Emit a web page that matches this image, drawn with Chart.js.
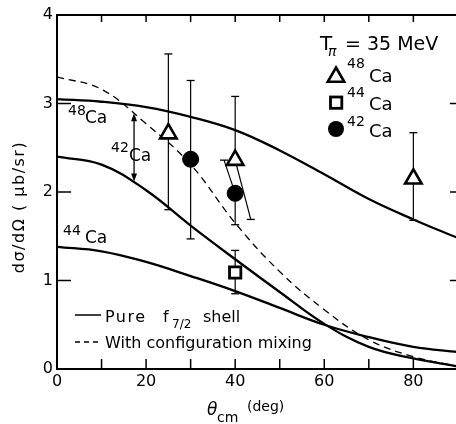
<!DOCTYPE html>
<html><head><meta charset="utf-8">
<script src="https://cdn.jsdelivr.net/npm/chart.js@4/dist/chart.umd.min.js"></script>
<style>
html,body{margin:0;padding:0;background:#fff;overflow:hidden;width:456px;height:424px}
#wrap{position:relative;width:470px;height:424px}
</style></head>
<body><div id="wrap"><canvas id="c" width="470" height="424"></canvas></div>
<script>
// ---- data ----
const angles = [0,10,20,30,40,50,60,70,80,90];
const ca48Pure   = [3.05,3.02,2.96,2.85,2.70,2.47,2.20,1.92,1.69,1.48];
const ca42Pure   = [2.40,2.31,2.02,1.62,1.24,0.87,0.51,0.25,0.12,0.03];
const ca44Pure   = [1.38,1.33,1.21,1.05,0.88,0.69,0.50,0.36,0.25,0.19];
const ca42Mixing = [3.30,3.16,2.77,2.31,1.65,1.10,0.67,0.33,0.14,0.03];

const ca48Angles = [25,40,80];
const ca48Values = [2.66,2.36,2.15];
const ca48ErrLow = [1.80,1.69,1.68];
const ca48ErrLowAngle = [25,43.5,80];
const ca48ErrHigh = [3.56,3.08,2.67];
const ca48ErrHighAngle = [25,40,80];

const ca44Angles = [40];
const ca44Values = [1.09];
const ca44ErrLow = [0.85];
const ca44ErrLowAngle = [40];
const ca44ErrHigh = [1.34];
const ca44ErrHighAngle = [40];

const ca42Angles = [30,40];
const ca42Values = [2.37,1.985];
const ca42ErrLow = [1.47,1.63];
const ca42ErrLowAngle = [30,40];
const ca42ErrHigh = [3.26,2.36];
const ca42ErrHighAngle = [30,37.5];

const xTickLabels = [0,20,40,60,80];
const yTickLabels = [0,1,2,3,4];
const xMinorTicks = [10,20,30,40,50,60,70,80];
const yInnerTicks = [1,2,3];
const arrowAngle = 17.3, arrowTop = 2.89, arrowBottom = 2.12;

// ---- build datasets ----
const pts = (xs, ys) => xs.map((a,i)=>({x:a, y:ys[i]}));
const curve = (ys, dashed) => ({
  data: pts(angles, ys), showLine:true, pointRadius:0, borderColor:'#000',
  borderWidth: dashed ? 1.3 : 2.3, borderDash: dashed ? [7,5] : [],
  tension:0.4, order:2
});
const errSets = [];
function addErrors(xs, ys, lo, loX, hi, hiX){
  xs.forEach((a,i)=>{
    [[hiX[i],hi[i]],[loX[i],lo[i]]].forEach(([ex,ey])=>{
      errSets.push({data:[{x:a,y:ys[i]},{x:ex,y:ey}], showLine:true, borderColor:'#000',
        borderWidth:1.2, pointStyle:'line', pointRadius:[0,4], pointBorderWidth:1.3,
        pointBorderColor:'#000', order:1});
    });
  });
}
addErrors(ca48Angles, ca48Values, ca48ErrLow, ca48ErrLowAngle, ca48ErrHigh, ca48ErrHighAngle);
addErrors(ca44Angles, ca44Values, ca44ErrLow, ca44ErrLowAngle, ca44ErrHigh, ca44ErrHighAngle);
addErrors(ca42Angles, ca42Values, ca42ErrLow, ca42ErrLowAngle, ca42ErrHigh, ca42ErrHighAngle);

const markers = [
  {data:pts(ca48Angles,ca48Values), pointStyle:'triangle', pointRadius:9.5, pointBorderWidth:2.6,
   pointBackgroundColor:'#fff', pointBorderColor:'#000', showLine:false, order:0},
  {data:pts(ca44Angles,ca44Values), pointStyle:'rect', pointRadius:8, pointBorderWidth:2.8,
   pointBackgroundColor:'#fff', pointBorderColor:'#000', showLine:false, order:0},
  {data:pts(ca42Angles,ca42Values), pointStyle:'circle', pointRadius:8, pointBorderWidth:1,
   pointBackgroundColor:'#000', pointBorderColor:'#000', showLine:false, order:0}
];

const FONT = '"DejaVu Sans"';
Chart.defaults.font.family = FONT;
Chart.defaults.font.size = 16;
Chart.defaults.color = '#000';

function txt(ctx, s, x, y, size, italic){
  ctx.font = (italic ? 'italic ' : '') + size + 'px ' + FONT;
  ctx.fillText(s, x, y);
}
function tri(ctx, cx, cy, r){
  ctx.beginPath();
  for (let k=0;k<3;k++){ const a = k*2*Math.PI/3; ctx.lineTo(cx+Math.sin(a)*r, cy-Math.cos(a)*r); }
  ctx.closePath();
}

const decor = {
  id:'decor',
  afterDraw(chart){
    const {ctx, chartArea:a, scales:{x,y}} = chart;
    ctx.save();
    ctx.strokeStyle='#000'; ctx.fillStyle='#000';
    ctx.lineWidth=2;
    ctx.strokeRect(a.left, a.top, a.right-a.left, a.bottom-a.top);
    ctx.lineWidth=1.5;
    ctx.beginPath();
    xMinorTicks.forEach(t=>{ const p=x.getPixelForValue(t);
      ctx.moveTo(p,a.bottom); ctx.lineTo(p,a.bottom-10);
      ctx.moveTo(p,a.top); ctx.lineTo(p,a.top+7); });
    yInnerTicks.forEach(t=>{ const p=y.getPixelForValue(t);
      ctx.moveTo(a.left,p); ctx.lineTo(a.left+14,p);
      ctx.moveTo(a.right,p); ctx.lineTo(a.right-8,p); });
    ctx.stroke();

    // double arrow
    const ax=x.getPixelForValue(arrowAngle), ay1=y.getPixelForValue(arrowTop), ay2=y.getPixelForValue(arrowBottom);
    ctx.lineWidth=1.3;
    ctx.beginPath(); ctx.moveTo(ax,ay1+6); ctx.lineTo(ax,ay2-6); ctx.stroke();
    ctx.beginPath(); ctx.moveTo(ax,ay1); ctx.lineTo(ax-3,ay1+8); ctx.lineTo(ax+3,ay1+8); ctx.closePath(); ctx.fill();
    ctx.beginPath(); ctx.moveTo(ax,ay2); ctx.lineTo(ax-3,ay2-8); ctx.lineTo(ax+3,ay2-8); ctx.closePath(); ctx.fill();

    ctx.textAlign='left'; ctx.textBaseline='alphabetic';
    // curve labels
    txt(ctx,'48',68,115,14); txt(ctx,'Ca',85,123,17);
    txt(ctx,'42',111,152,14); txt(ctx,'Ca',129,161,17);
    txt(ctx,'44',63,235,14); txt(ctx,'Ca',85,243,17);

    // top-right legend
    txt(ctx,'T',320,50,20); txt(ctx,'π',328,56,14,true); txt(ctx,'= 35 MeV',345,50,19);
    ctx.lineWidth=2.6; ctx.fillStyle='#fff';
    tri(ctx,336,77,9.5); ctx.fill(); ctx.stroke();
    ctx.lineWidth=2.8; ctx.fillRect(330.5,97,11.3,11.3); ctx.strokeRect(330.5,97,11.3,11.3);
    ctx.fillStyle='#000';
    ctx.beginPath(); ctx.arc(336,129,8,0,2*Math.PI); ctx.fill();
    txt(ctx,'48',347,68,14); txt(ctx,'Ca',369,82,18);
    txt(ctx,'44',347,97,14); txt(ctx,'Ca',369,110,18);
    txt(ctx,'42',347,126,14); txt(ctx,'Ca',369,137,18);

    // bottom-left legend
    ctx.lineWidth=1.5;
    ctx.beginPath(); ctx.moveTo(75,315); ctx.lineTo(101,315); ctx.stroke();
    ctx.setLineDash([5,4]); ctx.beginPath(); ctx.moveTo(75,342); ctx.lineTo(102,342); ctx.stroke(); ctx.setLineDash([]);
    ctx.letterSpacing='1.5px'; txt(ctx,'Pure',105,322,16); ctx.letterSpacing='0px';
    txt(ctx,'f',163,322,16); txt(ctx,'7/2',172,328,12); txt(ctx,'shell',203,322,16);
    txt(ctx,'With configuration mixing',105,348,16);

    // axis titles
    txt(ctx,'θ',207,415,17,true); txt(ctx,'cm',217,422,14); txt(ctx,'(deg)',247,411,14);
    ctx.save(); ctx.translate(20,207); ctx.rotate(-Math.PI/2);
    ctx.textAlign='center'; ctx.textBaseline='middle';
    ctx.letterSpacing='1.5px';
    txt(ctx,'dσ/dΩ ( μb/sr)',0,0,16);
    ctx.letterSpacing='0px';
    ctx.restore();
    ctx.restore();
  }
};

new Chart(document.getElementById('c'), {
  type:'scatter',
  data:{datasets:[...markers, ...errSets,
    curve(ca48Pure,false), curve(ca42Pure,false), curve(ca44Pure,false), curve(ca42Mixing,true)]},
  options:{
    responsive:false, animation:false, events:[],
    devicePixelRatio:1,
    layout:{padding:{top:15, right:7, left:0, bottom:0}},
    plugins:{legend:{display:false}, tooltip:{enabled:false}},
    scales:{
      x:{type:'linear', min:0, max:90, grid:{display:false, drawTicks:false}, border:{display:false},
         afterFit(s){ s.height=55; },
         afterBuildTicks(s){ s.ticks = xTickLabels.map(v=>({value:v})); },
         ticks:{padding:3, maxRotation:0, font:{size:16}}},
      y:{type:'linear', min:0, max:4, grid:{display:false, drawTicks:false}, border:{display:false},
         afterFit(s){ s.width=57; },
         afterBuildTicks(s){ s.ticks = yTickLabels.map(v=>({value:v})); },
         ticks:{padding:4, font:{size:16}}}
    }
  },
  plugins:[decor]
});
</script>
</body></html>
